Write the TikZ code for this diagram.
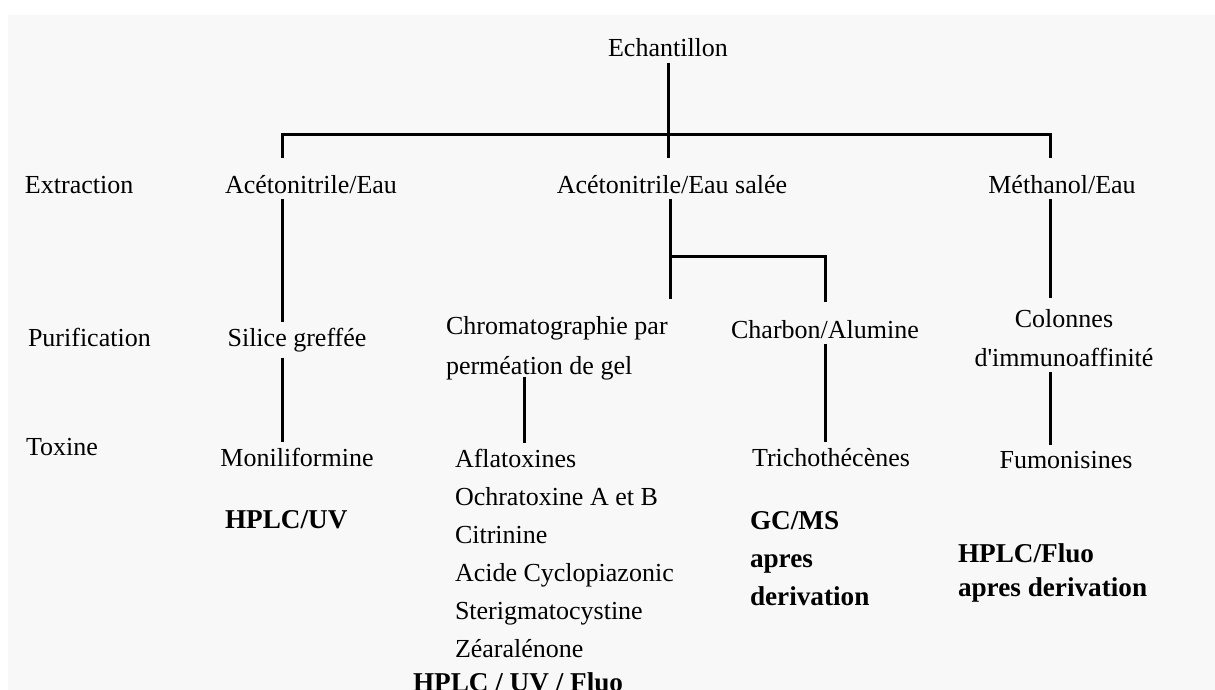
\documentclass[tikz,border=0pt]{standalone}
\usepackage{fontspec}
\setmainfont{Liberation Serif}
\definecolor{paper}{HTML}{F8F8F8}

\tikzset{
  txt/.style={inner sep=0pt, outer sep=3pt, font=\fontsize{13}{19}\selectfont},
  item/.style={txt, anchor=base},
  stage/.style={txt, anchor=base west},
  block/.style={txt, align=left, anchor=north west},
  method/.style={block, font=\fontsize{13.6}{19}\selectfont\bfseries},
  link/.style={line width=1.5pt}
}

\begin{document}
\begin{tikzpicture}[x=0.5pt,y=-0.5pt]
  \useasboundingbox (0,0) rectangle (1215,690);
  \fill[paper] (8,15) rectangle (1215,690);

  % steps on the left
  \node[stage] (extr) at (19,193) {Extraction};
  \node[stage] (puri) at (22,346) {Purification};
  \node[stage] (tox)  at (20,455) {Toxine};

  % sample and solvents
  \node[item] (ech)  at (668,57)   {Echantillon};
  \node[item] (ext1) at (311,193)  {Acétonitrile/Eau};
  \node[item] (ext2) at (672,193)  {Acétonitrile/Eau salée};
  \node[item] (ext3) at (1062,193) {Méthanol/Eau};

  % clean-up
  \node[item] (sil) at (297,346) {Silice greffée};
  \node[block, font=\fontsize{13}{20}\selectfont] (chrom) at (440,310)
    {Chromatographie par\\perméation de gel};
  \node[item] (charb) at (825,338) {Charbon/Alumine};
  \node[txt, align=center, anchor=north, font=\fontsize{13}{19.5}\selectfont] (col) at (1064,303)
    {Colonnes\\d\textquotesingle immunoaffinité};

  % toxins
  \node[item] (monil) at (297,466) {Moniliformine};
  \node[block] (afla) at (449,443)
    {Aflatoxines\\Ochratoxine A et B\\Citrinine\\Acide Cyclopiazonic\\Sterigmatocystine\\Zéaralénone};
  \node[item] (trich) at (831,466)  {Trichothécènes};
  \node[item] (fum)   at (1066,468) {Fumonisines};

  % detection
  \node[method, anchor=base west] (uv) at (219,528) {HPLC/UV};
  \node[method, anchor=base west] (uvfl) at (407,691) {HPLC / UV / Fluo};
  \node[method] (gcms) at (744,505) {GC/MS\\apres\\derivation};
  \node[method, font=\fontsize{13.6}{17}\selectfont\bfseries] (fluo) at (952,538)
    {HPLC/Fluo\\apres derivation};

  % tree
  \coordinate (j1) at (282,135);
  \coordinate (j0) at (668,135);
  \coordinate (j4) at (1050,135);
  \coordinate (s)  at (670,256);
  \coordinate (k2) at (524,0);

  \draw[link] (ech) -- (j0);
  \draw[link, shorten <=5.5pt, shorten >=5.5pt] (j1 |- ext1.north) -- (j1) -- (j4) -- (j4 |- ext3.north);
  \draw[link, shorten >=5.5pt] (j0) -- (j0 |- ext2.north);

  \draw[link] (j1 |- ext1.south) -- (j1 |- sil.north);
  \draw[link, shorten >=5.5pt] (s |- ext2.south) -- (s |- chrom.north);
  \draw[link, shorten >=6pt] (s) -| (charb.north);
  \draw[link, shorten >=2.5pt] (j4 |- ext3.south) -- (j4 |- col.north);

  \draw[link] (j1 |- sil.south) -- (j1 |- monil.north);
  \draw[link, shorten <=-4.5pt] (k2 |- chrom.south) -- (k2 |- afla.north);
  \draw[link] (charb.south) -- (charb.south |- trich.north);
  \draw[link] (j4 |- col.south) -- (j4 |- fum.north);
\end{tikzpicture}
\end{document}
